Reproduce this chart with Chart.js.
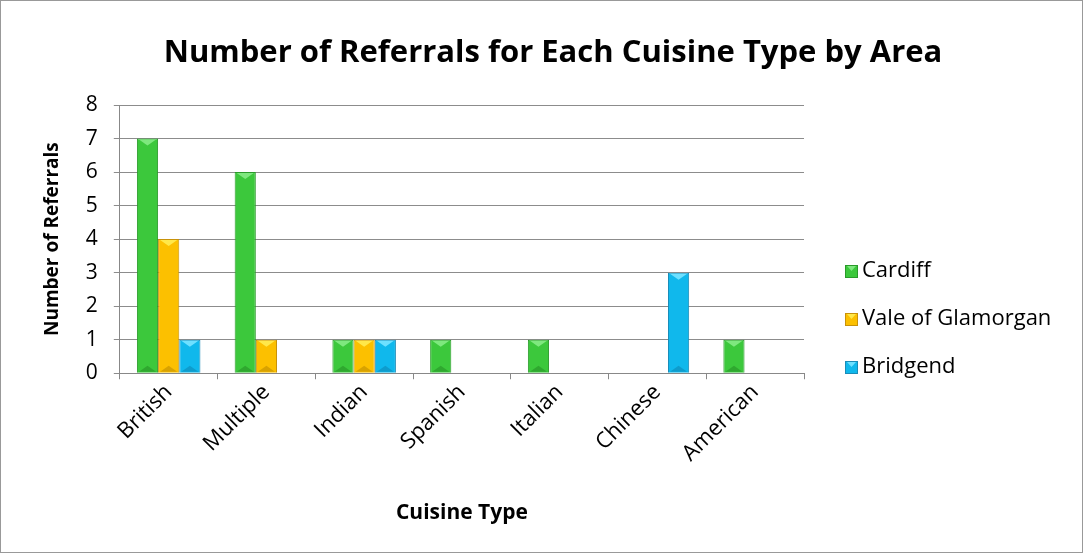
<!DOCTYPE html>
<html>
<head>
<meta charset="utf-8">
<script src="https://cdn.jsdelivr.net/npm/chart.js@4/dist/chart.umd.min.js"></script>
<style>
  html, body { margin: 0; padding: 0; background: #fff; }
  #wrap { position: relative; width: 1081px; height: 551px; border: 1px solid #999; }
</style>
</head>
<body>
<div id="wrap"><canvas id="barChart" width="1081" height="551"></canvas></div>
<script>
// data
var cuisines = ["British", "Multiple", "Indian", "Spanish", "Italian", "Chinese", "American"];
var cardiff = [7, 6, 1, 1, 1, 0, 1];
var vale = [4, 1, 1, 0, 0, 0, 0];
var bridgend = [1, 0, 1, 0, 0, 3, 0];
var yTicks = [0, 1, 2, 3, 4, 5, 6, 7, 8];
var chartTitle = 'Number of Referrals for Each Cuisine Type by Area';

var FONT = "'Open Sans', 'Lato', sans-serif";

// little bevel triangles like the excel style
var bevelPlugin = {
	id: 'bevel',
	afterDatasetsDraw: function(chart) {
		var ctx = chart.ctx;
		chart.data.datasets.forEach(function(ds, i) {
			var meta = chart.getDatasetMeta(i);
			meta.data.forEach(function(bar, j) {
				if (!ds.data[j]) return;
				var w = bar.width, l = bar.x - w / 2, r = bar.x + w / 2;
				var t = bar.y, b = bar.base;
				ctx.save();
				ctx.fillStyle = ds.lightColor;
				ctx.beginPath();
				ctx.moveTo(l + 2, t + 1);
				ctx.lineTo(r - 2, t + 1);
				ctx.lineTo(bar.x, t + 7);
				ctx.closePath();
				ctx.fill();
				ctx.fillStyle = ds.darkColor;
				ctx.beginPath();
				ctx.moveTo(l + 2, b - 1);
				ctx.lineTo(r - 2, b - 1);
				ctx.lineTo(bar.x, b - 7);
				ctx.closePath();
				ctx.fill();
				ctx.restore();
			});
		});
	}
};

// title centred on the whole canvas, not the padded box
var topTitle = {
	id: 'topTitle',
	afterDraw: function(chart) {
		var ctx = chart.ctx;
		ctx.save();
		ctx.font = "bold 31px " + FONT;
		ctx.fillStyle = '#000';
		ctx.textAlign = 'center';
		ctx.textBaseline = 'middle';
		ctx.fillText(chartTitle, 552, 52);
		ctx.restore();
	}
};

// legend drawn by hand so the spacing matches
var sideLegend = {
	id: 'sideLegend',
	afterDraw: function(chart) {
		var ctx = chart.ctx;
		ctx.save();
		ctx.font = "22px " + FONT;
		ctx.textBaseline = 'middle';
		chart.data.datasets.forEach(function(ds, i) {
			var y = 270 + i * 48;
			ctx.fillStyle = ds.backgroundColor;
			ctx.fillRect(844, y - 6, 13, 13);
			ctx.strokeStyle = ds.borderColor;
			ctx.lineWidth = 1;
			ctx.strokeRect(844.5, y - 5.5, 12, 12);
			ctx.fillStyle = ds.lightColor;
			ctx.beginPath();
			ctx.moveTo(846, y - 5);
			ctx.lineTo(855, y - 5);
			ctx.lineTo(850.5, y);
			ctx.closePath();
			ctx.fill();
			ctx.fillStyle = '#000';
			ctx.fillText(ds.label, 861, y);
		});
		ctx.restore();
	}
};

var barChartCanvas = document.getElementById('barChart').getContext('2d');
var barChart = new Chart(barChartCanvas, {
	type: 'bar',
	data: {
		labels: cuisines,
		datasets: [
			{ label: 'Cardiff', data: cardiff, backgroundColor: '#3cc83c', borderColor: '#2a9a2a', lightColor: '#7ee87e', darkColor: '#2fa82f', borderWidth: 1 },
			{ label: 'Vale of Glamorgan', data: vale, backgroundColor: '#fcc000', borderColor: '#c8920a', lightColor: '#ffe84a', darkColor: '#d8a200', borderWidth: 1 },
			{ label: 'Bridgend', data: bridgend, backgroundColor: '#10b8ec', borderColor: '#1a8cb8', lightColor: '#6ee0ff', darkColor: '#0e9ccc', borderWidth: 1 }
		]
	},
	options: {
		responsive: false,
		animation: false,
		layout: { padding: { left: 36, right: 278, top: 104, bottom: 22 } },
		datasets: { bar: { categoryPercentage: 0.65, barPercentage: 1 } },
		plugins: {
			legend: { display: false },
			tooltip: { enabled: false },
			title: { display: false }
		},
		scales: {
			x: {
				grid: { drawOnChartArea: false, color: '#888', tickLength: 6, offset: true },
				border: { color: '#888' },
				ticks: { color: '#000', font: { family: FONT, size: 22 }, maxRotation: 45, minRotation: 45, padding: 0 },
				title: { display: true, text: 'Cuisine Type', color: '#000', font: { family: FONT, size: 21, weight: 'bold' }, padding: { top: 34 } }
			},
			y: {
				min: 0, max: 8,
				afterBuildTicks: function(axis) { axis.ticks = yTicks.map(function(v) { return { value: v }; }); },
				grid: { color: '#8c8c8c', tickLength: 6 },
				border: { color: '#888' },
				ticks: { color: '#000', font: { family: FONT, size: 21 }, padding: 16 },
				title: { display: true, text: 'Number of Referrals', color: '#000', font: { family: FONT, size: 19, weight: 'bold' }, padding: { bottom: 6 } }
			}
		}
	},
	plugins: [bevelPlugin, topTitle, sideLegend]
});
</script>
</body>
</html>
